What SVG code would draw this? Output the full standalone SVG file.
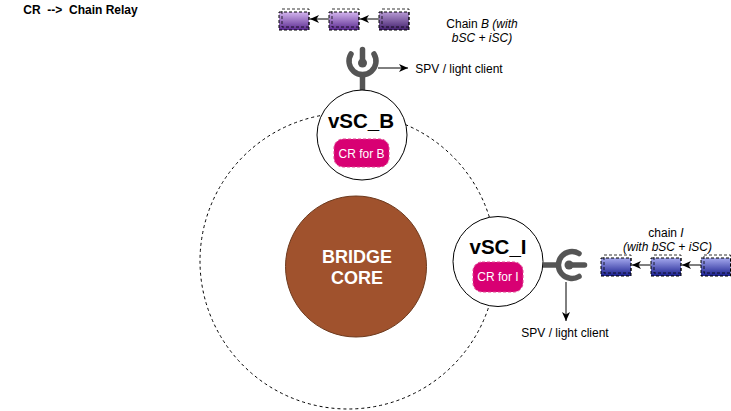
<svg xmlns="http://www.w3.org/2000/svg" width="731" height="411" viewBox="0 0 731 411">
<defs>
<linearGradient id="gp" x1="0" y1="0" x2="0" y2="1"><stop offset="0" stop-color="#d3b5ee"/><stop offset="1" stop-color="#5b2a90"/></linearGradient>
<linearGradient id="gp2" x1="0" y1="0" x2="0" y2="1"><stop offset="0" stop-color="#b79ad4"/><stop offset="1" stop-color="#43206e"/></linearGradient>
<linearGradient id="gb" x1="0" y1="0" x2="0" y2="1"><stop offset="0" stop-color="#a5a9ee"/><stop offset="1" stop-color="#1a1f8f"/></linearGradient>
<marker id="a" markerWidth="10" markerHeight="8" refX="9" refY="4" orient="auto" markerUnits="userSpaceOnUse"><path d="M0 0L9 4L0 8L2.5 4Z" fill="#000"/></marker>
</defs>
<style>
text{font-family:"Liberation Sans",Arial,sans-serif;fill:#000;text-anchor:middle}
.s{font-size:12px}
.t{font-size:20.5px;font-weight:bold}
.cr{font-size:12px;fill:#fff}
.core{font-size:18px;font-weight:bold;fill:#fff}
.circle{fill:#fff;stroke:#000;stroke-width:1}
.pink{fill:#d80073;stroke:#e0408f;stroke-width:1;stroke-dasharray:3 2}
.sock{fill:none;stroke:#555;stroke-width:5.500;stroke-linecap:round}
.stem{fill:none;stroke:#555;stroke-width:5.500}
.blk{stroke:#000;stroke-width:1;stroke-dasharray:3 2}
.inner{fill:none;stroke:#000;stroke-width:.8;stroke-dasharray:3 2}
.l{fill:none;stroke:#000;stroke-width:1;marker-end:url(#a)}
</style>
<rect width="731" height="411" fill="#fff"/>
<g id="ring"><circle cx="348" cy="261" r="148" fill="none" stroke="#000" stroke-width="1" stroke-dasharray="3 3"/></g>
<g id="connectors">
<path class="l" d="M329 19H310"/>
<path class="l" d="M379 19H360"/>
<path class="l" d="M378 68H408"/>
<path class="l" d="M566 282V321"/>
<path class="l" d="M651 265H632"/>
<path class="l" d="M701 265H682"/>
</g>
<g id="legend"><text x="80.500" y="14" style="font-size:12px;font-weight:bold;white-space:pre">CR  --&gt;  Chain Relay</text></g>
<g id="chainB">
<rect class="blk" x="279" y="12" width="30" height="18" fill="url(#gp)"/><rect class="inner" x="282" y="9" width="27" height="18"/>
<rect class="blk" x="329" y="12" width="30" height="18" fill="url(#gp)"/><rect class="inner" x="332" y="9" width="27" height="18"/>
<rect class="blk" x="379" y="12" width="30" height="18" fill="url(#gp2)"/><rect class="inner" x="382" y="9" width="27" height="18"/>
</g>
<g id="chainBLabel"><text class="s" x="482" y="28">Chain <tspan font-style="italic">B (with</tspan></text><text class="s" x="482" y="42" font-style="italic">bSC + iSC)</text></g>
<g id="plugB">
<path class="stem" d="M362.500 73V90"/>
<path class="sock" d="M351 54A13.500 13.500 0 1 0 374 54"/>
<path class="stem" stroke-linecap="round" d="M362.500 49.500V64"/>
<circle cx="362.500" cy="63" r="4.500" fill="#555"/>
</g>
<g id="splabelB"><text class="s" x="459" y="73">SPV / light client</text></g>
<g id="vSC_B">
<circle class="circle" cx="362" cy="135" r="45"/>
<text class="t" x="361" y="128">vSC_B</text>
<rect class="pink" x="334" y="139" width="55" height="28" rx="9"/>
<text class="cr" x="361.500" y="158">CR for B</text>
</g>
<g id="core">
<circle cx="356" cy="266.500" r="70.500" fill="#a0522d" stroke="#6d3a1e" stroke-width="1"/>
<text class="core" x="357" y="263">BRIDGE</text>
<text class="core" x="357" y="284">CORE</text>
</g>
<g id="vSC_I">
<circle class="circle" cx="498" cy="261.500" r="45"/>
<text class="t" x="498" y="254">vSC_I</text>
<rect class="pink" x="473" y="262" width="50" height="30" rx="9"/>
<text class="cr" x="498" y="281">CR for I</text>
</g>
<g id="plugI">
<path class="stem" d="M543 265H558"/>
<path class="sock" d="M579 253.500A13.500 13.500 0 1 0 579 276.500"/>
<path class="stem" stroke-linecap="round" d="M568 265H584.500"/>
<circle cx="569" cy="265" r="4.500" fill="#555"/>
</g>
<g id="chainILabel"><text class="s" x="666" y="237">chain <tspan font-style="italic">I</tspan></text><text class="s" x="667.500" y="251" font-style="italic">(with bSC + iSC)</text></g>
<g id="chainI">
<rect class="blk" x="601" y="258" width="30" height="18" fill="url(#gb)"/><rect class="inner" x="604" y="255" width="27" height="18"/>
<rect class="blk" x="651" y="258" width="30" height="18" fill="url(#gb)"/><rect class="inner" x="654" y="255" width="27" height="18"/>
<rect class="blk" x="701" y="258" width="29.500" height="18" fill="url(#gb)"/><rect class="inner" x="704" y="255" width="26.500" height="18"/>
</g>
<g id="spvI"><text class="s" x="565" y="337">SPV / light client</text></g>
</svg>
